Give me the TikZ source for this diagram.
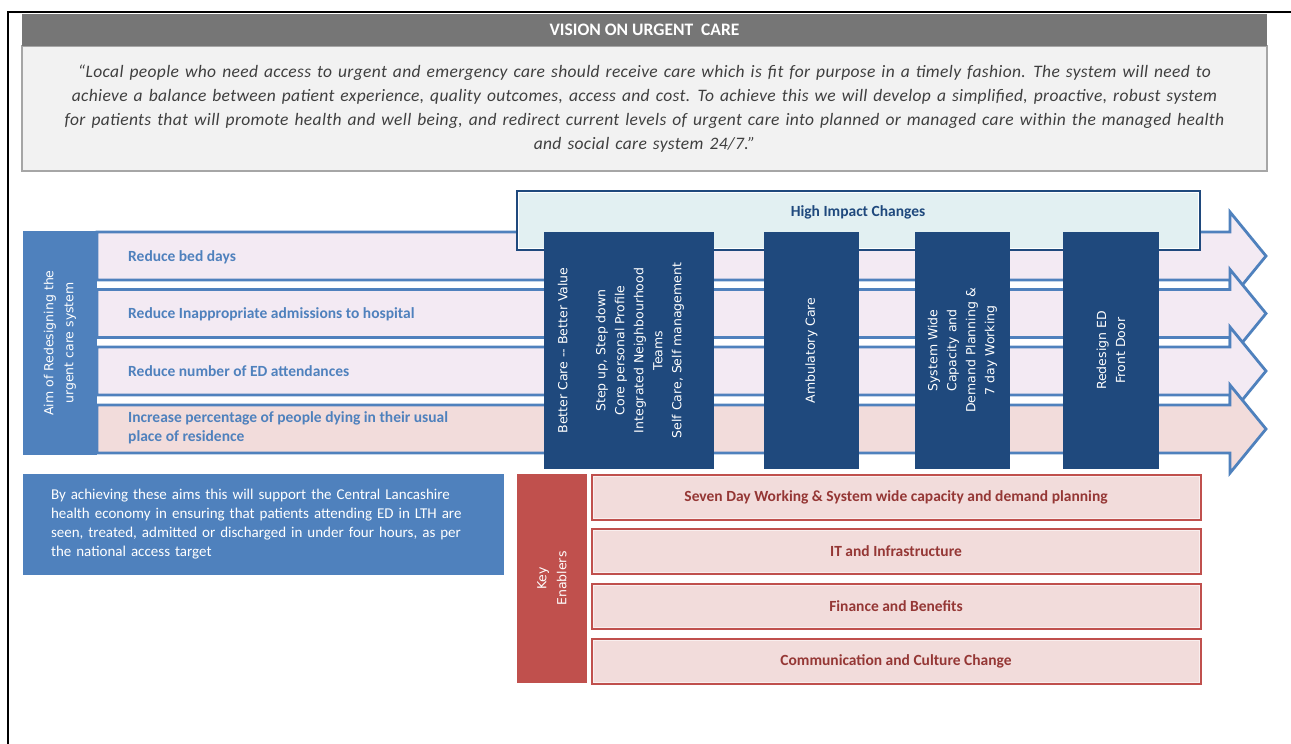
\documentclass[tikz,border=0pt]{standalone}
\usepackage{fontspec}
\setmainfont{Carlito}
\newfontfamily\widesf{DejaVu Sans}
\newfontfamily\quotefont[LetterSpace=2,WordSpace=1.4]{Carlito}
\usepackage{xcolor}
\usetikzlibrary{calc}

\definecolor{bargray}{HTML}{767676}
\definecolor{quotefill}{HTML}{F2F2F2}
\definecolor{quoteline}{HTML}{A6A6A6}
\definecolor{quotetext}{HTML}{3F3F3F}
\definecolor{aimblue}{HTML}{4F81BD}
\definecolor{hicblue}{HTML}{1F497D}
\definecolor{hicfill}{HTML}{E2F0F2}
\definecolor{lavender}{HTML}{F3EAF3}
\definecolor{rosefill}{HTML}{F2DCDB}
\definecolor{enred}{HTML}{C0504D}
\definecolor{entext}{HTML}{953735}

\begin{document}
\begin{tikzpicture}[x=1pt, y=-1pt,
  titlebar/.style={fill=bargray, text=white, inner sep=0, minimum width=1245, minimum height=32,
    font=\fontsize{17.5}{18}\selectfont\bfseries},
  quotebox/.style={fill=quotefill, draw=quoteline, line width=1.5, inner sep=0, minimum width=1245,
    minimum height=125, align=center, text=quotetext, font=\quotefont\fontsize{17.5}{24}\selectfont\itshape},
  aimarrow/.style={draw=aimblue, line width=2.8, line join=miter},
  aimtext/.style={anchor=west, inner sep=0, align=left, text=aimblue,
    font=\fontsize{15.5}{19}\selectfont\bfseries},
  sidebar/.style={fill=#1, text=white, rotate=90, inner sep=0, align=center,
    font=\widesf\fontsize{12.5}{20}\selectfont},
  hicbox/.style={fill=hicfill, draw=hicblue, line width=2.5, minimum width=683, minimum height=59},
  hiccol/.style={fill=hicblue, text=white, rotate=90, inner sep=0, minimum width=237, align=center,
    font=\widesf\fontsize{12.5}{19}\selectfont},
  enabler/.style={fill=rosefill, draw=enred, line width=3, inner sep=0, minimum width=608,
    minimum height=44, text=entext, font=\fontsize{15.5}{18}\selectfont\bfseries},
  inner edge/.style={draw=#1, line width=1}
]
\useasboundingbox (0,0) rectangle (1291,744);
\draw[line width=2] (1291,12) -- (8,12) -- (8,744);

\node[quotebox] (vision) at (644.5,108.5) {%
  “Local people who need access to urgent and emergency  care should receive care which is fit for purpose in a timely fashion. The system will need to\\
  achieve a balance between  patient experience, quality outcomes, access and cost. To achieve this we will develop a simplified, proactive,  robust system\\
  for patients  that will promote health and well being, and redirect  current  levels of urgent care  into planned or managed care  within  the managed health\\
  and social care system 24/7.”};
\node[titlebar] (title) at (644.5,30) {VISION ON URGENT\ \ CARE};

\foreach \y/\c in {256/lavender, 313.5/lavender, 371/lavender, 429/rosefill} {
  \draw[aimarrow, fill=\c] (97,\y-24) -- (1230,\y-24) -- (1230,\y-44) -- (1266,\y)
    -- (1230,\y+44) -- (1230,\y+24) -- (97,\y+24) -- cycle;
}
\node[aimtext] (beddays) at (128,257) {Reduce bed days};
\node[aimtext] (admissions) at (128,314) {Reduce Inappropriate admissions to hospital};
\node[aimtext] (attendances) at (128,371) {Reduce number of ED attendances};
\node[aimtext] (residence) at (128,428) {Increase percentage of people dying in their usual\\place of residence};

\node[sidebar=aimblue, minimum width=224, minimum height=74] (aim) at (60,343)
  {Aim of Redesigning the\\urgent care system};

\node[hicbox] (hic) at (858.5,220.5) {};
\draw[inner edge=white] ([shift={(2.5pt,-2.5pt)}]hic.north west) rectangle ([shift={(-2.5pt,2.5pt)}]hic.south east);
\node[text=hicblue, inner sep=0, font=\fontsize{15.5}{18}\selectfont\bfseries] (hictitle) at (858,212) {High Impact Changes};

\node[hiccol, minimum height=170] (bettercare) at (629,350.5)
  {Better Care -- Better Value\\[19pt]Step up, Step down\\Core personal Profile\\Integrated Neighbourhood\\Teams\\Self Care, Self management\\ \mbox{}};
\node[hiccol, minimum height=95] (ambulatory) at (811.5,350.5) {Ambulatory Care};
\node[hiccol, minimum height=95] (capacity) at (962.5,350.5)
  {System Wide\\Capacity and\\Demand Planning \&\\7 day Working};
\node[hiccol, minimum height=96] (frontdoor) at (1111,350.5) {Redesign ED\\Front Door};

\node[fill=aimblue, inner sep=0, minimum width=481, minimum height=101, text width=425, align=left,
  text=white, font=\fontsize{15}{19}\selectfont] (support) at (263.5,524.5)
  {By achieving these aims this will support the Central Lancashire health economy in ensuring that patients attending ED in LTH are\\
  seen, treated, admitted or discharged in under four hours, as per\\
  the national access target};

\node[sidebar=enred, minimum width=209, minimum height=70] (keyenablers) at (552,578.5) {Key\\Enablers};
\foreach \y/\name/\lbl in {497/sevenday/{Seven Day Working \& System wide capacity and demand planning},
    551/infra/{IT and Infrastructure}, 606/finance/{Finance and Benefits},
    661.5/culture/{Communication and Culture Change}} {
  \node[enabler] (\name) at (896,\y) {\lbl};
  \draw[inner edge=white!55!rosefill] ([shift={(2.5pt,-2.5pt)}]\name.north west) rectangle ([shift={(-2.5pt,2.5pt)}]\name.south east);
}
\end{tikzpicture}
\end{document}
